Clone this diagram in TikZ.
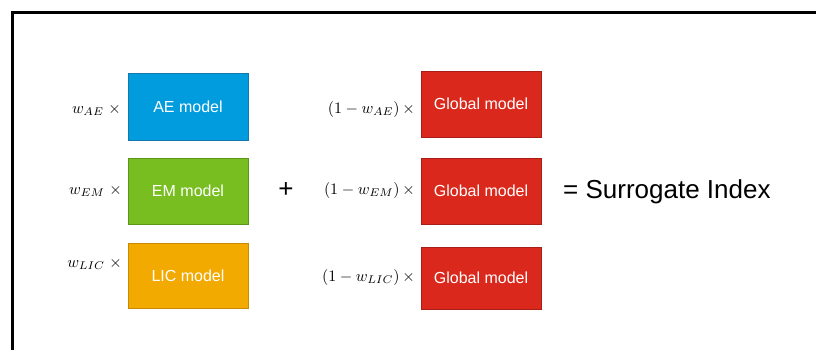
\documentclass[tikz,border=0pt]{standalone}
\usepackage{fontspec}
\setmainfont{Liberation Sans}
\definecolor{aeblue}{RGB}{0,156,222}
\definecolor{aebord}{RGB}{20,120,175}
\definecolor{emgreen}{RGB}{120,190,32}
\definecolor{embord}{RGB}{90,150,25}
\definecolor{licorange}{RGB}{242,169,0}
\definecolor{licbord}{RGB}{200,140,0}
\definecolor{glred}{RGB}{218,41,28}
\definecolor{glbord}{RGB}{170,30,25}
\newcommand{\wlbl}[1]{\scalebox{1.6}{$#1$}}
\tikzset{
  modelbox/.style={draw, line width=0.8pt, minimum width=120pt, inner sep=0pt, text=white,
    font=\fontsize{16}{18}\selectfont},
  weightlbl/.style={anchor=east, inner sep=0pt},
  bigtext/.style={inner sep=0pt, font=\fontsize{26}{30}\selectfont},
}
\begin{document}
\begin{tikzpicture}[x=1pt,y=-1pt]
\useasboundingbox (0,0) rectangle (816,349);
\clip (0,0) rectangle (816,349);
\draw[line width=3pt] (12,360) -- (12,12.5) -- (830,12.5);

\node[modelbox, fill=aeblue, draw=aebord, minimum height=67pt] (ae) at (188,106.5) {AE model};
\node[modelbox, fill=emgreen, draw=embord, minimum height=66pt] (em) at (188,191) {EM model};
\node[modelbox, fill=licorange, draw=licbord, minimum height=65pt] (lic) at (188,275.5) {LIC model};

\node[modelbox, fill=glred, draw=glbord, minimum height=66pt] (g1) at (481,104) {Global model};
\node[modelbox, fill=glred, draw=glbord, minimum height=66pt] (g2) at (481,191) {Global model};
\node[modelbox, fill=glred, draw=glbord, minimum height=62pt] (g3) at (481,278) {Global model};

\node[weightlbl] (wae) at (121,110) {\wlbl{w_{AE}\;\times}};
\node[weightlbl] (wem) at (122,191) {\wlbl{w_{EM}\;\times}};
\node[weightlbl] (wlic) at (122,264) {\wlbl{w_{LIC}\;\times}};

\node[weightlbl] (gae) at (415,109) {\wlbl{(1-w_{AE})\,\times}};
\node[weightlbl] (gem) at (415,190) {\wlbl{(1-w_{EM})\,\times}};
\node[weightlbl] (glic) at (415,277) {\wlbl{(1-w_{LIC})\,\times}};

\node[bigtext] (plus) at (286,190) {+};
\node[bigtext, anchor=west] (res) at (563,192) {= Surrogate Index};
\end{tikzpicture}
\end{document}
